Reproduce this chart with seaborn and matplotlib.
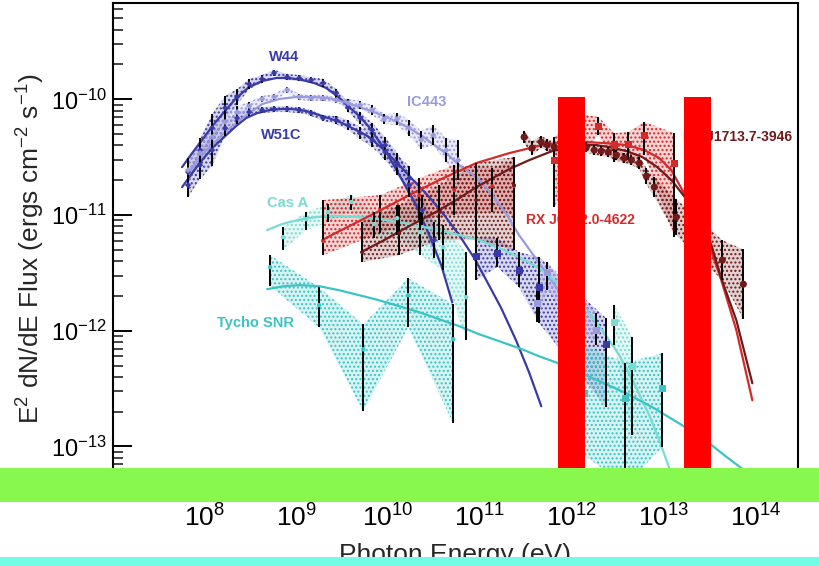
import matplotlib
matplotlib.use("Agg")
import numpy as np
import pandas as pd
import matplotlib.pyplot as plt
from matplotlib.patches import Rectangle
import seaborn as sns

sns.set_theme(style="white")
plt.rcParams.update({
    "font.family": ["Liberation Sans", "DejaVu Sans"],
    "mathtext.fontset": "custom",
    "mathtext.rm": "Liberation Sans",
    "mathtext.it": "Liberation Sans:italic",
    "mathtext.bf": "Liberation Sans:bold",
    "mathtext.default": "regular",
    "axes.unicode_minus": False,
    "hatch.linewidth": 1.0,
})

# ---------------------------------------------------------------------------
# Spectral data: log10(E / eV), log10(E^2 dN/dE / erg cm^-2 s^-1)
# ---------------------------------------------------------------------------
# W44 (Fermi-LAT)
w44_logE = [7.821, 7.952, 8.083, 8.224, 8.355, 8.486, 8.627, 8.758, 8.900, 9.031, 9.161,
            9.292, 9.434, 9.564, 9.695, 9.826, 9.967, 10.098, 10.229, 10.371, 10.501]
w44_logF = [-10.629, -10.439, -10.248, -10.075, -9.980, -9.868, -9.824, -9.772, -9.807, -9.816,
            -9.833, -9.859, -9.946, -10.067, -10.162, -10.266, -10.395, -10.551, -10.741,
            -10.958, -11.217]
w44_err = [0.087, 0.104, 0.121, 0.104, 0.069, 0.043, 0.035, 0.026, 0.026, 0.026, 0.026,
           0.035, 0.035, 0.043, 0.052, 0.061, 0.069, 0.087, 0.104, 0.130, 0.156]
w44_fit_logE = [7.756, 7.865, 7.974, 8.094, 8.214, 8.344, 8.486, 8.627, 8.780, 8.922, 9.063,
                9.194, 9.325, 9.445, 9.575, 9.684, 9.793, 9.967, 10.152, 10.305, 10.447,
                10.578, 10.697]
w44_fit_logF = [-10.586, -10.465, -10.352, -10.222, -10.110, -9.989, -9.894, -9.842, -9.816,
                -9.816, -9.833, -9.859, -9.902, -9.971, -10.067, -10.144, -10.240, -10.439,
                -10.698, -10.914, -11.174, -11.434, -11.754]

# W51C (Fermi-LAT + MAGIC)
w51c_logE = [7.821, 7.952, 8.083, 8.224, 8.355, 8.486, 8.627, 8.758, 8.900, 9.031, 9.161,
             9.292, 9.434, 9.564, 9.695, 9.826, 9.967, 10.098, 10.229]
w51c_logF = [-10.741, -10.568, -10.439, -10.248, -10.162, -10.110, -10.093, -10.084, -10.084,
             -10.093, -10.119, -10.162, -10.179, -10.222, -10.292, -10.352, -10.456, -10.568,
             -10.681]
w51c_err = [0.104, 0.121, 0.138, 0.069, 0.052, 0.035, 0.026, 0.026, 0.026, 0.026, 0.026,
            0.026, 0.035, 0.043, 0.052, 0.061, 0.069, 0.087, 0.104]
w51c_tev_logE = [10.959, 11.188, 11.425, 11.643, 12.375]
w51c_tev_logF = [-11.356, -11.330, -11.477, -11.624, -12.117]
w51c_tev_hi = [-11.191, -11.200, -11.321, -11.364, -11.892]
w51c_tev_lo = [-11.563, -11.451, -11.624, -11.935, -12.662]
w51c_fit_logE = [7.756, 7.865, 7.974, 8.094, 8.214, 8.344, 8.453, 8.573, 8.704, 8.835, 8.954,
                 9.107, 9.248, 9.379, 9.499, 9.651, 9.793, 9.956, 10.120, 10.283, 10.447,
                 10.610, 10.774, 10.937, 11.068, 11.231, 11.392, 11.534, 11.667]
w51c_fit_logF = [-10.759, -10.638, -10.525, -10.413, -10.326, -10.231, -10.162, -10.119,
                 -10.093, -10.084, -10.084, -10.101, -10.136, -10.170, -10.205, -10.266,
                 -10.326, -10.439, -10.568, -10.707, -10.845, -11.001, -11.174, -11.373,
                 -11.563, -11.805, -12.083, -12.360, -12.653]

# IC 443 (Fermi-LAT + IACT)
ic443_logE = [7.821, 7.952, 8.083, 8.224, 8.355, 8.486, 8.627, 8.758, 8.900, 9.031, 9.161,
              9.292, 9.434, 9.564, 9.695, 9.826, 9.956, 10.098, 10.229, 10.360, 10.491,
              10.632, 10.763]
ic443_logF = [-10.612, -10.465, -10.326, -10.196, -10.110, -10.058, -9.997, -9.980, -9.920,
              -9.980, -9.989, -9.989, -10.006, -10.032, -10.049, -10.093, -10.170, -10.170,
              -10.248, -10.352, -10.309, -10.439, -10.525]
ic443_err = [0.104, 0.087, 0.087, 0.069, 0.052, 0.035, 0.026, 0.026, 0.026, 0.026, 0.026,
             0.026, 0.026, 0.035, 0.035, 0.043, 0.043, 0.052, 0.069, 0.078, 0.087, 0.104,
             0.173]
ic443_tev_logE = [11.621, 11.733, 12.266]
ic443_tev_logF = [-11.762, -11.494, -11.996]
ic443_tev_hi = [-11.606, -11.407, -11.849]
ic443_tev_lo = [-11.927, -11.650, -12.126]
ic443_fit_logE = [7.832, 7.952, 8.083, 8.214, 8.344, 8.486, 8.627, 8.813, 8.998, 9.172, 9.357,
                  9.521, 9.651, 9.815, 9.956, 10.098, 10.229, 10.371, 10.501, 10.643, 10.774,
                  10.883, 10.992, 11.134, 11.286, 11.425, 11.621, 11.830, 12.026]
ic443_fit_logF = [-10.629, -10.499, -10.395, -10.292, -10.205, -10.119, -10.041, -9.997,
                  -9.980, -9.980, -9.989, -10.023, -10.058, -10.101, -10.144, -10.196,
                  -10.248, -10.317, -10.395, -10.473, -10.568, -10.629, -10.698, -10.828,
                  -10.992, -11.174, -11.390, -11.624, -11.866]

# Cas A (Fermi-LAT + IACT)
casa_logE = [8.856, 9.107, 9.346, 9.597, 9.847, 10.098, 10.349, 10.599, 10.850]
casa_logF = [-11.191, -11.036, -10.975, -10.888, -11.079, -11.027, -11.148, -11.278, -11.710]
casa_hi = [-11.105, -10.975, -10.906, -10.828, -10.975, -10.914, -10.975, -11.087, -11.321]
casa_lo = [-11.304, -11.131, -11.061, -10.958, -11.200, -11.174, -11.347, -11.477, -12.083]
casa_tev_logE = [12.462, 12.658]
casa_tev_logF = [-11.927, -12.307]
casa_tev_hi = [-11.779, -12.057]
casa_tev_lo = [-12.126, -12.904]
casa_fit_logE = [8.682, 8.813, 8.922, 9.063, 9.216, 9.357, 9.466, 9.684, 9.902, 10.120, 10.338,
                 10.556, 10.774, 10.992, 11.210, 11.425, 11.643, 11.830, 12.026, 12.190,
                 12.354, 12.517, 12.680, 12.843, 12.952, 13.061, 13.148]
casa_fit_logF = [-11.131, -11.087, -11.061, -11.036, -11.018, -11.010, -11.010, -11.018,
                 -11.036, -11.061, -11.096, -11.131, -11.174, -11.217, -11.286, -11.364,
                 -11.459, -11.580, -11.710, -11.849, -12.022, -12.213, -12.454, -12.731,
                 -12.947, -13.189, -13.397]

# Tycho (Fermi-LAT + VERITAS)
tycho_logE = [8.715, 9.248, 9.728, 10.218, 10.708]
tycho_logF = [-11.451, -11.779, -12.161, -11.693, -12.074]
tycho_hi = [-11.347, -11.624, -11.944, -11.546, -11.771]
tycho_lo = [-11.615, -11.970, -12.696, -11.970, -12.800]
tycho_tev_logE = [12.135, 12.582, 12.985]
tycho_tev_logF = [-12.541, -12.584, -12.500]
tycho_tev_hi = [-12.126, -12.278, -12.195]
tycho_tev_lo = [-13.077, -13.336, -13.008]
tycho_fit_logE = [8.682, 8.867, 9.031, 9.248, 9.466, 9.684, 9.902, 10.120, 10.338, 10.556,
                  10.774, 10.992, 11.210, 11.460, 11.643, 11.841, 12.157, 12.375, 12.593,
                  12.898, 13.203, 13.443, 13.661, 13.878, 14.096]
tycho_fit_logF = [-11.641, -11.615, -11.606, -11.615, -11.650, -11.693, -11.737, -11.788,
                  -11.840, -11.901, -11.961, -12.031, -12.091, -12.161, -12.221, -12.278,
                  -12.385, -12.463, -12.541, -12.671, -12.818, -12.939, -13.077, -13.207,
                  -13.345]

# RX J0852.0-4622 (Fermi-LAT + H.E.S.S.)
rxj0852_logE = [9.292, 9.913, 10.338, 10.719, 11.134, 11.370]
rxj0852_logF = [-11.226, -10.958, -10.828, -10.785, -10.750, -10.750]
rxj0852_hi = [-10.871, -10.828, -10.681, -10.568, -10.594, -10.525]
rxj0852_lo = [-11.347, -11.157, -11.044, -11.001, -10.975, -11.001]
rxj0852_tev_logE = [11.808, 12.081, 12.288, 12.462, 12.615, 12.789, 13.115]
rxj0852_tev_logF = [-10.525, -10.309, -10.231, -10.395, -10.387, -10.309, -10.551]
rxj0852_tev_hi = [-10.326, -10.127, -10.153, -10.292, -10.283, -10.196, -10.292]
rxj0852_tev_lo = [-10.932, -10.525, -10.309, -10.542, -10.525, -10.482, -11.191]
rxj0852_fit_logE = [9.281, 9.466, 9.684, 9.902, 10.229, 10.556, 10.959, 11.319, 11.678,
                    11.917, 12.135, 12.353, 12.593, 12.789, 12.952, 13.083, 13.203, 13.333,
                    13.497, 13.627, 13.791, 13.965]
rxj0852_fit_logF = [-11.217, -11.140, -11.053, -10.965, -10.828, -10.698, -10.551, -10.465,
                    -10.395, -10.369, -10.369, -10.378, -10.395, -10.439, -10.508, -10.612,
                    -10.785, -10.975, -11.260, -11.563, -11.996, -12.601]

# RX J1713.7-3946 (Fermi-LAT + H.E.S.S.)
rxj1713_logE = [9.717, 10.120, 10.556, 10.959, 11.370]
rxj1713_logF = [-11.321, -11.157, -10.975, -10.871, -10.741]
rxj1713_hi = [-11.061, -10.914, -10.741, -10.551, -10.499]
rxj1713_lo = [-11.407, -11.347, -11.217, -11.217, -11.304]
rxj1713_tev_logE = [11.480, 11.567, 11.667, 11.733, 11.808, 12.157, 12.244, 12.320, 12.397,
                    12.484, 12.571, 12.648, 12.735, 12.811, 12.898, 13.137, 13.638, 13.867]
rxj1713_tev_logF = [-10.326, -10.421, -10.369, -10.395, -10.413, -10.413, -10.439, -10.447,
                    -10.456, -10.482, -10.508, -10.525, -10.551, -10.663, -10.759, -11.018,
                    -11.390, -11.598]
rxj1713_tev_err = [0.052, 0.061, 0.052, 0.052, 0.052, 0.043, 0.043, 0.043, 0.043, 0.043,
                   0.043, 0.043, 0.052, 0.069, 0.087, 0.156, 0.173, 0.300]
rxj1713_fit_logE = [9.706, 9.956, 10.229, 10.556, 10.774, 10.959, 11.319, 11.537, 11.787,
                    11.972, 12.113, 12.266, 12.408, 12.593, 12.767, 12.930, 13.094, 13.246,
                    13.388, 13.519, 13.627, 13.791, 13.965]
rxj1713_fit_logF = [-11.321, -11.217, -11.096, -10.958, -10.854, -10.759, -10.603, -10.525,
                    -10.447, -10.413, -10.395, -10.395, -10.413, -10.447, -10.499, -10.586,
                    -10.707, -10.862, -11.044, -11.260, -11.546, -11.910, -12.454]

# Source labels: name, log10 E, log10 flux, colour key, alignment, size
labels = [
    ("W44", 8.870, -9.634, "w44", "center", 10.5),
    ("IC443", 10.418, -10.024, "ic443", "center", 10.5),
    ("W51C", 8.838, -10.309, "w51c", "center", 10.5),
    ("Cas A", 8.902, -10.897, "casa", "center", 10.5),
    ("Tycho SNR", 8.554, -11.935, "tycho", "center", 10.5),
    ("RX J0852.0-4622", 11.503, -11.044, "rxj0852", "left", 10),
    ("RX J1713.7-3946", 14.401, -10.326, "rxj1713", "right", 10),
]

colors = {
    "w44": "#3a3aa6",
    "w51c": "#3a3aa6",
    "ic443": "#9a9ade",
    "casa": "#78dcd4",
    "tycho": "#3cc4c4",
    "rxj0852": "#d42a2a",
    "rxj1713": "#701a1a",
}

# ---------------------------------------------------------------------------
fig = plt.figure(figsize=(8.2, 5.66), dpi=100)
ax = fig.add_axes([0.1374, 0.1254, 0.8358, 0.8693])
ax.set_xscale("log")
ax.set_yscale("log")


def p10(v):
    return np.power(10.0, np.asarray(v, dtype=float))


def draw_set(logE, logF, lo, hi, key, marker, msize):
    col = colors[key]
    E = p10(logE)
    # stippled uncertainty band
    ax.fill_between(E, p10(lo), p10(hi), facecolor=matplotlib.colors.to_rgba(col, 0.2),
                    edgecolor=col, hatch="....", linewidth=0, zorder=1)
    ax.vlines(E, p10(lo), p10(hi), colors="black", linewidth=1.4, zorder=3)
    pts = pd.DataFrame({"E": E, "F": p10(logF)})
    sns.scatterplot(data=pts, x="E", y="F", ax=ax, color=col, marker=marker,
                    s=msize, edgecolor="none", zorder=4, legend=False)


def draw_fit(logE, logF, key, lw=1.6):
    fit = pd.DataFrame({"E": p10(logE), "F": p10(logF)})
    sns.lineplot(data=fit, x="E", y="F", ax=ax, color=colors[key], linewidth=lw,
                 estimator=None, sort=False, zorder=2, legend=False)


def sym(logF, err):
    f = np.asarray(logF)
    e = np.asarray(err)
    return f - e, f + e


lo, hi = sym(w44_logF, w44_err)
draw_set(w44_logE, w44_logF, lo, hi, "w44", "D", 10)
lo, hi = sym(w51c_logF, w51c_err)
draw_set(w51c_logE, w51c_logF, lo, hi, "w51c", "D", 10)
draw_set(w51c_tev_logE, w51c_tev_logF, w51c_tev_lo, w51c_tev_hi, "w51c", "s", 26)
lo, hi = sym(ic443_logF, ic443_err)
draw_set(ic443_logE, ic443_logF, lo, hi, "ic443", "D", 10)
draw_set(ic443_tev_logE, ic443_tev_logF, ic443_tev_lo, ic443_tev_hi, "ic443", "s", 26)
draw_set(casa_logE, casa_logF, casa_lo, casa_hi, "casa", "o", 10)
draw_set(casa_tev_logE, casa_tev_logF, casa_tev_lo, casa_tev_hi, "casa", "s", 26)
draw_set(tycho_logE, tycho_logF, tycho_lo, tycho_hi, "tycho", "o", 10)
draw_set(tycho_tev_logE, tycho_tev_logF, tycho_tev_lo, tycho_tev_hi, "tycho", "s", 26)
draw_set(rxj0852_logE, rxj0852_logF, rxj0852_lo, rxj0852_hi, "rxj0852", "o", 8)
draw_set(rxj0852_tev_logE, rxj0852_tev_logF, rxj0852_tev_lo, rxj0852_tev_hi,
         "rxj0852", "s", 26)
draw_set(rxj1713_logE, rxj1713_logF, rxj1713_lo, rxj1713_hi, "rxj1713", "o", 8)
lo, hi = sym(rxj1713_tev_logF, rxj1713_tev_err)
draw_set(rxj1713_tev_logE, rxj1713_tev_logF, lo, hi, "rxj1713", "o", 26)

draw_fit(w44_fit_logE, w44_fit_logF, "w44")
draw_fit(w51c_fit_logE, w51c_fit_logF, "w51c")
draw_fit(ic443_fit_logE, ic443_fit_logF, "ic443")
draw_fit(casa_fit_logE, casa_fit_logF, "casa")
draw_fit(tycho_fit_logE, tycho_fit_logF, "tycho")
draw_fit(rxj0852_fit_logE, rxj0852_fit_logF, "rxj0852")
draw_fit(rxj1713_fit_logE, rxj1713_fit_logF, "rxj1713")

for name, le, lf, key, ha, fs in labels:
    ax.text(10 ** le, 10 ** lf, name, color=colors[key], fontsize=fs,
            fontweight="bold", ha=ha, va="center", zorder=5)

# Axes styling
ax.set_xlim(1.0e7, 2.9e14)
ax.set_ylim(3.8e-14, 6.8e-10)
ax.set_xticks([1e8, 1e9, 1e10, 1e11, 1e12, 1e13, 1e14])
ax.set_yticks([1e-13, 1e-12, 1e-11, 1e-10])
ax.tick_params(axis="both", which="major", direction="in", length=14, width=1.4,
               colors="black", left=True, bottom=True, right=False, top=False)
ax.tick_params(axis="x", which="major", labelsize=19, pad=7)
ax.tick_params(axis="y", which="major", labelsize=17, pad=4)
ax.tick_params(axis="both", which="minor", direction="in", length=7.5, width=1.2,
               left=True, bottom=True, right=False, top=False)
for side in ["left", "right", "top", "bottom"]:
    ax.spines[side].set_color("black")
    ax.spines[side].set_linewidth(1.5)
ax.set_xlabel("Photon Energy (eV)", fontsize=19, labelpad=8)
ax.set_ylabel(r"E$^{2}$ dN/dE Flux (ergs cm$^{-2}$ s$^{-1}$)", fontsize=19)
ax.yaxis.set_label_coords(-0.096, 0.5)

# Overlaid bands and bars
fig.add_artist(Rectangle((0.6805, 0.1731), 0.0329, 0.6555, transform=fig.transFigure,
                         facecolor="#ff0000", edgecolor="none", zorder=10))
fig.add_artist(Rectangle((0.8341, 0.1731), 0.0330, 0.6555, transform=fig.transFigure,
                         facecolor="#ff0000", edgecolor="none", zorder=10))
fig.add_artist(Rectangle((0.0, 0.1131), 1.0, 0.0600, transform=fig.transFigure,
                         facecolor="#88f84e", edgecolor="none", zorder=10))
fig.add_artist(Rectangle((0.0, 0.0), 1.0, 0.0159, transform=fig.transFigure,
                         facecolor="#70fce6", edgecolor="none", zorder=10))

fig.savefig("out.png", dpi=100)
